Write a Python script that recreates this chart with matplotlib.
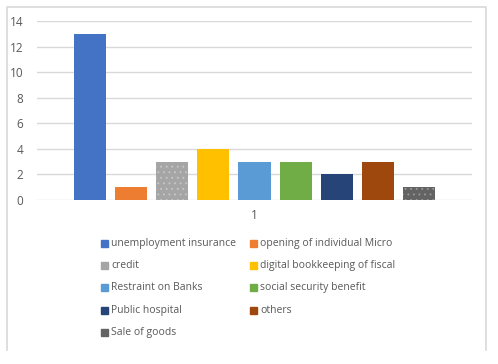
import matplotlib.pyplot as plt
from matplotlib.patches import Rectangle
from matplotlib.lines import Line2D

plt.rcParams['font.family'] = ['Open Sans', 'DejaVu Sans']

labels = ["unemployment insurance", "opening of individual Micro", "credit",
          "digital bookkeeping of fiscal", "Restraint on Banks",
          "social security benefit", "Public hospital", "others", "Sale of goods"]
values = [13, 1, 3, 4, 3, 3, 2, 3, 1]
colors = ["#4472C4", "#ED7D31", "#A5A5A5", "#FFC000", "#5B9BD5",
          "#70AD47", "#264478", "#9E480E", "#636363"]
hatches = [None, None, "...", None, None, None, None, None, "..."]
hatch_edges = [None, None, "#c8c8c8", None, None, None, None, None, "#9a9a9a"]

W, H = 498, 364
fig = plt.figure(figsize=(W / 100, H / 100), dpi=100)
plt.rcParams['hatch.linewidth'] = 0.6

ax = fig.add_axes([37 / W, 1 - 200 / H, 435 / W, 179 / H])
for i, v in enumerate(values):
    ax.bar(i, v, width=0.78, color=colors[i], hatch=hatches[i],
           edgecolor=hatch_edges[i] or colors[i], linewidth=0, zorder=3)

ax.set_xlim(-1.29, 9.29)
ax.set_ylim(0, 14)
ax.set_yticks(range(0, 15, 2))
ax.set_xticks([])
ax.yaxis.grid(True, color="#d9d9d9", linewidth=1, zorder=0)
for s in ax.spines.values():
    s.set_visible(False)
ax.tick_params(axis='y', length=0, pad=10, labelsize=8.5, labelcolor="#595959")
ax.text(0.5, -15 / 179, "1", transform=ax.transAxes, ha='center', va='center',
        fontsize=8.5, color="#595959")

# legend, laid out row by row in two columns
col_x = [101, 250]
for i, lab in enumerate(labels):
    r, c = divmod(i, 2)
    y = 243.5 + r * 22.2
    fig.patches.append(Rectangle((col_x[c] / W, 1 - (y + 3.5) / H), 7 / W, 7 / H,
                                 color=colors[i], transform=fig.transFigure))
    fig.text((col_x[c] + 10) / W, 1 - y / H, lab, ha='left', va='center',
             fontsize=7.5, color="#595959")

# chart border
bc = "#d9d9d9"
fig.add_artist(Line2D([7 / W, 7 / W, 486 / W, 486 / W],
                      [1 - 350 / H, 1 - 7 / H, 1 - 7 / H, 1 - 350 / H],
                      color=bc, linewidth=1.2, transform=fig.transFigure))

fig.savefig("out.png", dpi=100)
